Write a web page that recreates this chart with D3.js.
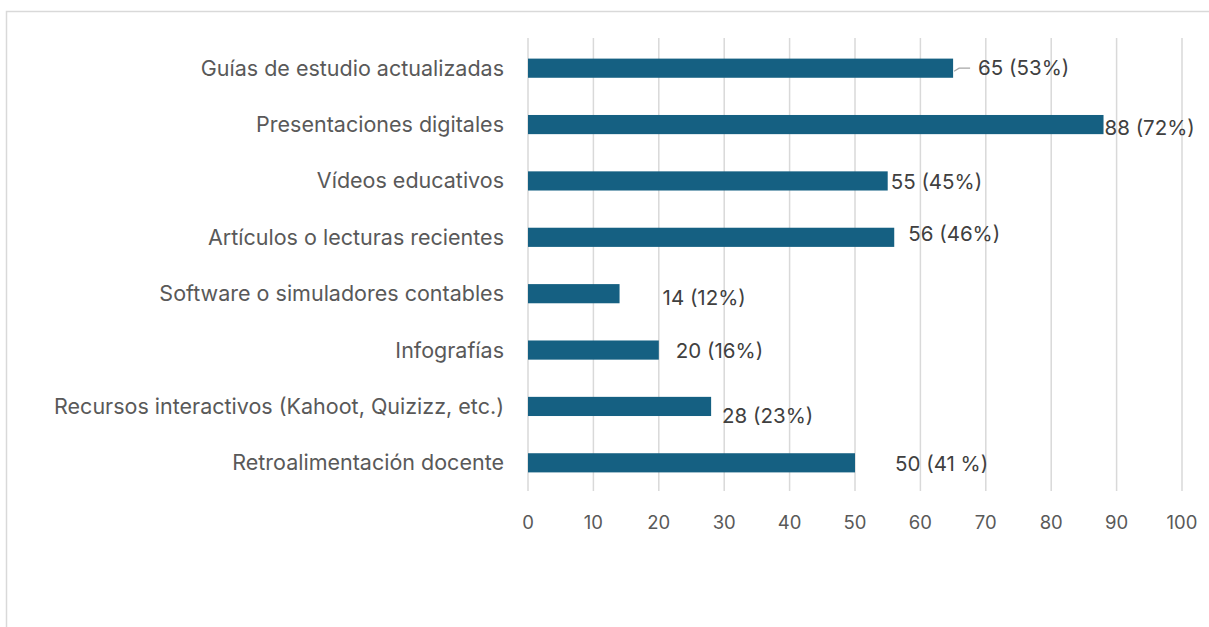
<!DOCTYPE html>
<html><head><meta charset="utf-8">
<script src="https://cdn.jsdelivr.net/npm/d3@7"></script>
<style>body{margin:0;background:#fff}svg{display:block}</style>
</head><body>
<script>
const categories = ["Guías de estudio actualizadas","Presentaciones digitales","Vídeos educativos","Artículos o lecturas recientes","Software o simuladores contables","Infografías","Recursos interactivos (Kahoot, Quizizz, etc.)","Retroalimentación docente"];
const values = [65, 88, 55, 56, 14, 20, 28, 50];
const valueLabels = ["65 (53%)","88 (72%)","55 (45%)","56 (46%)","14 (12%)","20 (16%)","28 (23%)","50 (41 %)"];
const tickValues = [0,10,20,30,40,50,60,70,80,90,100];
// label placement offsets (layout, px) from bar end
const labelDx = [25, 1, 3, 14, 43, 17, 11, 40];
const labelDy = [0, 3, 1, -3, 4, 1, 9, 1];

const W = 1209, H = 627;
const svg = d3.select("body").append("svg").attr("width", W).attr("height", H);
svg.append("rect").attr("x",6.5).attr("y",11.5).attr("width",W+10).attr("height",H+10)
  .attr("fill","#fff").attr("stroke","#d9d9d9").attr("stroke-width",1.5);

const x = d3.scaleLinear().domain([0,100]).range([528,1182]);
const y = d3.scaleBand().domain(categories).range([40,491]).paddingInner(0.66).paddingOuter(0.33);
const font = "Inter, 'Open Sans', sans-serif";

// gridlines
svg.append("g").selectAll("line").data(tickValues).join("line")
  .attr("x1",d=>x(d)).attr("x2",d=>x(d)).attr("y1",38).attr("y2",491)
  .attr("stroke","#d9d9d9").attr("stroke-width",1.5);

// bars
svg.append("g").selectAll("rect").data(values).join("rect")
  .attr("x",x(0)).attr("y",(d,i)=>y(categories[i]))
  .attr("width",d=>x(d)-x(0)).attr("height",y.bandwidth())
  .attr("fill","#156082");

// category labels
svg.append("g").selectAll("text").data(categories).join("text")
  .attr("x",504).attr("y",d=>y(d)+y.bandwidth()/2).attr("dy","0.35em")
  .attr("text-anchor","end").attr("font-family",font).attr("font-size",21.5)
  .attr("fill","#595959").text(d=>d);

// x axis tick labels
svg.append("g").selectAll("text").data(tickValues).join("text")
  .attr("x",d=>x(d)).attr("y",523).attr("dy","0.35em").attr("text-anchor","middle")
  .attr("font-family",font).attr("font-size",18.5).attr("fill","#595959").text(d=>d);

// leader line for first label
svg.append("path")
  .attr("d",`M${x(values[0])+1},${y(categories[0])+y.bandwidth()/2+3} L${x(values[0])+6},${y(categories[0])+y.bandwidth()/2} L${x(values[0])+17},${y(categories[0])+y.bandwidth()/2}`)
  .attr("fill","none").attr("stroke","#a6a6a6").attr("stroke-width",1.2);

// data labels
svg.append("g").selectAll("text").data(valueLabels).join("text")
  .attr("x",(d,i)=>x(values[i])+labelDx[i])
  .attr("y",(d,i)=>y(categories[i])+y.bandwidth()/2+labelDy[i]).attr("dy","0.35em")
  .attr("font-family",font).attr("font-size",20.5).attr("fill","#404040").text(d=>d);
</script>
</body></html>
